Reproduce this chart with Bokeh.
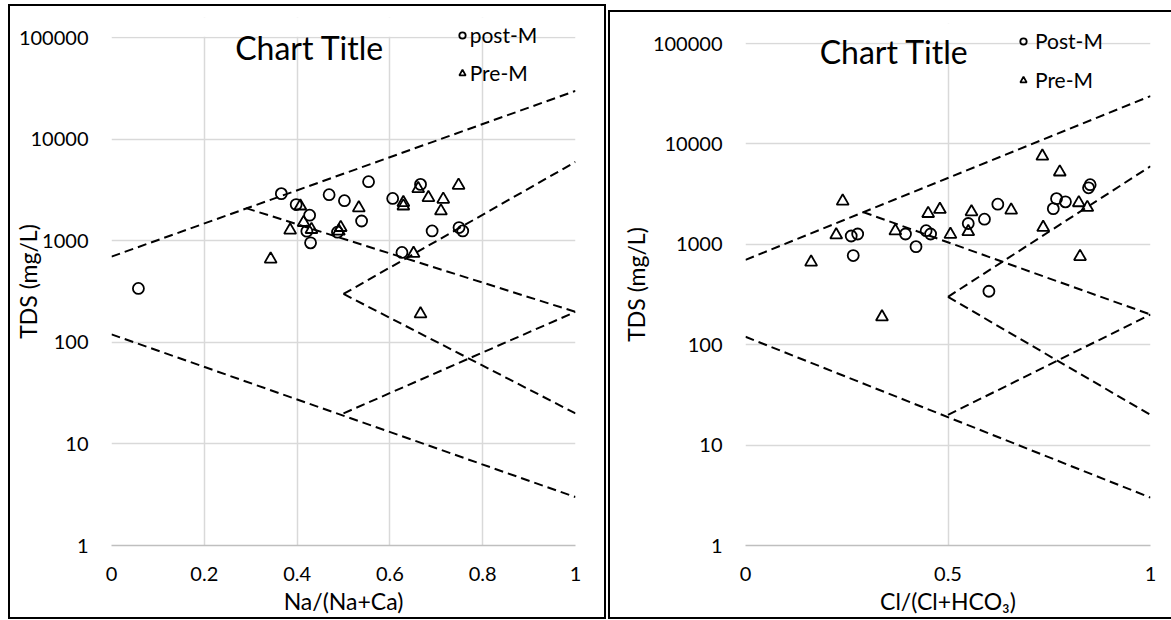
from bokeh.embed import file_html
from bokeh.layouts import row
from bokeh.models import (BoxAnnotation, FixedTicker, Grid, Label, Legend,
                          LegendItem, Range1d)
from bokeh.plotting import figure
from bokeh.resources import INLINE

FONT = "Lato"
INK = "#000000"
GRID = "#D9D9D9"
AXIS = "#BFBFBF"

# ---- shared axes -------------------------------------------------------
tds_ticks = [1, 10, 100, 1000, 10000, 100000]
tds_tick_labels = ["1", "10", "100", "1000", "10000", "100000"]

na_ticks = [0, 0.2, 0.4, 0.6, 0.8, 1]
na_tick_labels = ["0", "0.2", "0.4", "0.6", "0.8", "1"]

cl_ticks = [0, 0.5, 1]
cl_tick_labels = ["0", "0.5", "1"]

# ---- Gibbs boundary segments (ratio, TDS), same on both panels -----------
boundary_ratio = [[0, 1], [0.29, 1], [0.5, 1], [0.5, 1], [0.5, 1], [0, 1]]
boundary_tds = [[700, 30000], [2100, 200], [300, 6000], [300, 20], [20, 200], [120, 3]]

# ---- cation panel: Na/(Na+Ca) ------------------------------------------
na_post_ratio = [0.058, 0.366, 0.398, 0.427, 0.421, 0.429, 0.469, 0.502, 0.487,
                 0.539, 0.554, 0.606, 0.666, 0.626, 0.691, 0.749, 0.757]
na_post_tds = [340, 2920, 2280, 1790, 1245, 956, 2850, 2490, 1217,
               1570, 3830, 2620, 3600, 770, 1254, 1353, 1254]

na_pre_ratio = [0.343, 0.385, 0.407, 0.414, 0.431, 0.494, 0.490, 0.533, 0.629,
                0.629, 0.661, 0.683, 0.715, 0.710, 0.748, 0.651, 0.666]
na_pre_tds = [661, 1274, 2204, 1516, 1294, 1353, 1245, 2110, 2382,
              2204, 3268, 2667, 2566, 1969, 3526, 752, 191]

# ---- anion panel: Cl/(Cl+HCO3) -----------------------------------------
cl_post_ratio = [0.261, 0.277, 0.266, 0.395, 0.421, 0.446, 0.457, 0.550,
                 0.590, 0.623, 0.601, 0.760, 0.768, 0.790, 0.847, 0.851]
cl_post_tds = [1211, 1268, 773, 1268, 949, 1367, 1268, 1614,
               1782, 2512, 341, 2268, 2853, 2650, 3656, 3928]

cl_pre_ratio = [0.733, 0.776, 0.240, 0.224, 0.162, 0.337, 0.370, 0.451, 0.480,
                0.506, 0.558, 0.550, 0.656, 0.735, 0.823, 0.844, 0.826]
cl_pre_tds = [7550, 5250, 2690, 1240, 664, 189, 1360, 2028, 2224,
              1256, 2107, 1336, 2191, 1472, 2594, 2328, 755]

# head-room above the top decade so the legend can sit on the top grid line
TDS_TOP = 10 ** 5.2


def gibbs_panel(width, height, borders, ticks, tick_labels, xlabel,
                post_ratio, post_tds, pre_ratio, pre_tds, post_name,
                legend_loc, legend_standoff, legend_spacing, title_pos,
                ylabel_standoff, panel_css, margin):
    left, right, top, bottom = borders
    p = figure(width=width, height=height,
               x_range=Range1d(0, 1), y_range=Range1d(1, TDS_TOP),
               y_axis_type="log", output_backend="svg", toolbar_location=None,
               min_border_left=left, min_border_right=right,
               min_border_top=top, min_border_bottom=bottom)
    p.styles = panel_css
    p.margin = margin
    p.outline_line_color = None
    p.background_fill_color = "white"
    p.border_fill_color = "white"

    # grid
    p.xgrid.ticker = FixedTicker(ticks=ticks)
    p.ygrid.ticker = FixedTicker(ticks=tds_ticks)
    for g in (p.xgrid, p.ygrid):
        g.grid_line_color = GRID
        g.grid_line_width = 1.5
    # vertical axis line drawn as a grid line so the head-room stays blank
    p.add_layout(Grid(dimension=0, ticker=FixedTicker(ticks=[ticks[0]]),
                      grid_line_color=AXIS, grid_line_width=3))
    # blank out the head-room above the top decade
    p.add_layout(BoxAnnotation(bottom=tds_ticks[-1] * 1.025, fill_color="white",
                               fill_alpha=1, line_color=None))

    # axes
    p.xaxis.ticker = FixedTicker(ticks=ticks)
    p.xaxis.major_label_overrides = {t: s for t, s in zip(ticks, tick_labels)}
    p.yaxis.ticker = FixedTicker(ticks=tds_ticks)
    p.yaxis.major_label_overrides = {t: s for t, s in zip(tds_ticks, tds_tick_labels)}
    for ax in (p.xaxis[0], p.yaxis[0]):
        ax.axis_line_color = AXIS
        ax.axis_line_width = 1.5
        ax.major_tick_line_color = None
        ax.minor_tick_line_color = None
        ax.major_tick_out = 0
        ax.major_tick_in = 0
        ax.major_label_text_font = FONT
        ax.major_label_text_font_size = "20px"
        ax.major_label_text_color = INK
        ax.axis_label_text_font = FONT
        ax.axis_label_text_font_size = "23px"
        ax.axis_label_text_font_style = "normal"
        ax.axis_label_text_color = INK
    p.yaxis.axis_line_color = None
    p.xaxis.major_label_standoff = 21
    p.xaxis.axis_label = xlabel
    p.xaxis.axis_label_standoff = 3
    p.yaxis.major_label_standoff = 23
    p.yaxis.axis_label = "TDS (mg/L)"
    p.yaxis.axis_label_standoff = ylabel_standoff

    # Gibbs boundaries
    p.multi_line(boundary_ratio, boundary_tds, line_color=INK, line_width=2,
                 line_dash="9 5")

    # samples
    r_post = p.scatter(post_ratio, post_tds, marker="circle", size=11,
                       fill_color=None, line_color=INK, line_width=1.8)
    r_pre = p.scatter(pre_ratio, pre_tds, marker="triangle", size=12,
                      fill_color=None, line_color=INK, line_width=1.8)

    tx, ty = title_pos
    p.add_layout(Label(x=tx, y=ty, text="Chart Title", text_align="center",
                       text_baseline="middle", text_font=FONT,
                       text_font_size="32px", text_color=INK))

    legend = Legend(items=[LegendItem(label=post_name, renderers=[r_post]),
                           LegendItem(label="Pre-M", renderers=[r_pre])],
                    location=legend_loc, glyph_width=16, glyph_height=20,
                    label_height=20, spacing=legend_spacing, padding=0,
                    margin=0, label_standoff=legend_standoff,
                    border_line_color=None, background_fill_alpha=0,
                    label_text_font=FONT, label_text_font_size="21px",
                    label_text_color=INK)
    p.add_layout(legend)
    return p


left = gibbs_panel(594, 611, (97, 29, 11, 71), na_ticks, na_tick_labels,
                   "Na/(Na+Ca)", na_post_ratio, na_post_tds, na_pre_ratio,
                   na_pre_tds, "post-M", (342.7, 460), 0, 13,
                   (0.427, 10 ** 4.9), -26,
                   {"outline": "2px solid black"}, (6, 0, 0, 10))

right = gibbs_panel(561, 605, (135, 21, 9, 71), cl_ticks, cl_tick_labels,
                    "Cl/(Cl+HCO₃)", cl_post_ratio, cl_post_tds, cl_pre_ratio,
                    cl_pre_tds, "Post-M", (270, 453), 4, 14,
                    (0.367, 10 ** 4.92), 0,
                    {"outline": "2px solid black"}, (12, 0, 0, 6))

page = row(left, right)
open("out.html", "w").write(file_html(page, INLINE))
